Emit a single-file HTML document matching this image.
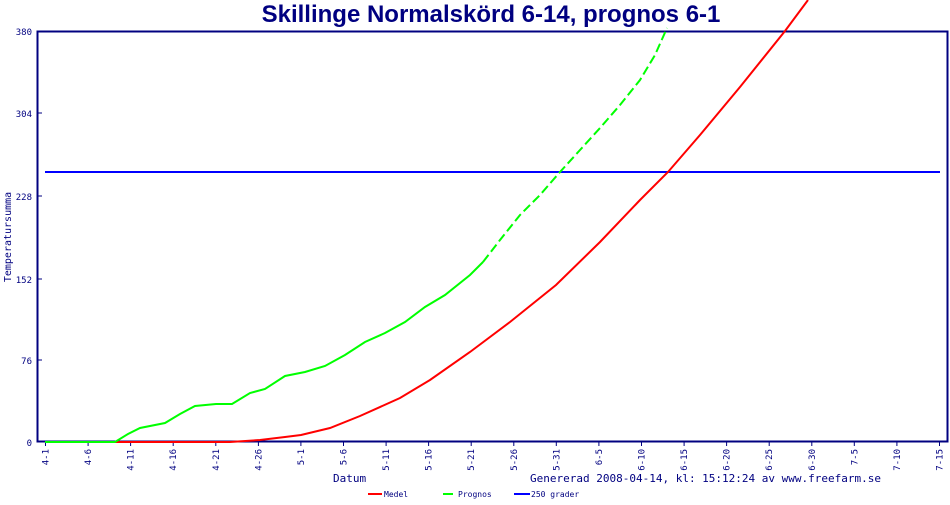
<!DOCTYPE html>
<html><head><meta charset="utf-8"><style>
html,body{margin:0;padding:0;background:#fff;}
svg text{font-family:"DejaVu Sans Mono","Liberation Mono",monospace;fill:#000080;}
</style></head><body>
<svg width="950" height="500" xmlns="http://www.w3.org/2000/svg">
<text x="491" y="22" text-anchor="middle" style="font-family:'Liberation Sans',sans-serif;font-weight:bold;font-size:24px;fill:#000080">Skillinge Normalskörd 6-14, prognos 6-1</text>
<rect x="37.5" y="31.5" width="910" height="410" fill="none" stroke="#000080" stroke-width="2"/>
<g font-size="9">
<text x="32" y="35" text-anchor="end">380</text><line x1="37" y1="113" x2="42" y2="113" stroke="#000080"/>
<text x="32" y="117" text-anchor="end">304</text><line x1="37" y1="196" x2="42" y2="196" stroke="#000080"/>
<text x="32" y="200" text-anchor="end">228</text><line x1="37" y1="279" x2="42" y2="279" stroke="#000080"/>
<text x="32" y="283" text-anchor="end">152</text><line x1="37" y1="360" x2="42" y2="360" stroke="#000080"/>
<text x="32" y="364" text-anchor="end">76</text>
<text x="32" y="446" text-anchor="end">0</text>
</g>
<text transform="translate(11,237) rotate(-90)" text-anchor="middle" font-size="10">Temperatursumma</text>
<g font-size="9" stroke="#000080" stroke-width="1">
<line x1="45.5" y1="441" x2="45.5" y2="446"/><line x1="88.1" y1="441" x2="88.1" y2="446"/><line x1="130.6" y1="441" x2="130.6" y2="446"/><line x1="173.2" y1="441" x2="173.2" y2="446"/><line x1="215.8" y1="441" x2="215.8" y2="446"/><line x1="258.4" y1="441" x2="258.4" y2="446"/><line x1="300.9" y1="441" x2="300.9" y2="446"/><line x1="343.5" y1="441" x2="343.5" y2="446"/><line x1="386.1" y1="441" x2="386.1" y2="446"/><line x1="428.6" y1="441" x2="428.6" y2="446"/><line x1="471.2" y1="441" x2="471.2" y2="446"/><line x1="513.8" y1="441" x2="513.8" y2="446"/><line x1="556.3" y1="441" x2="556.3" y2="446"/><line x1="598.9" y1="441" x2="598.9" y2="446"/><line x1="641.5" y1="441" x2="641.5" y2="446"/><line x1="684.1" y1="441" x2="684.1" y2="446"/><line x1="726.6" y1="441" x2="726.6" y2="446"/><line x1="769.2" y1="441" x2="769.2" y2="446"/><line x1="811.8" y1="441" x2="811.8" y2="446"/><line x1="854.3" y1="441" x2="854.3" y2="446"/><line x1="896.9" y1="441" x2="896.9" y2="446"/><line x1="939.5" y1="441" x2="939.5" y2="446"/>
</g>
<g font-size="9" text-anchor="end">
<text transform="translate(48.5,449) rotate(-90)">4-1</text>
<text transform="translate(91.1,449) rotate(-90)">4-6</text>
<text transform="translate(133.6,449) rotate(-90)">4-11</text>
<text transform="translate(176.2,449) rotate(-90)">4-16</text>
<text transform="translate(218.8,449) rotate(-90)">4-21</text>
<text transform="translate(261.4,449) rotate(-90)">4-26</text>
<text transform="translate(303.9,449) rotate(-90)">5-1</text>
<text transform="translate(346.5,449) rotate(-90)">5-6</text>
<text transform="translate(389.1,449) rotate(-90)">5-11</text>
<text transform="translate(431.6,449) rotate(-90)">5-16</text>
<text transform="translate(474.2,449) rotate(-90)">5-21</text>
<text transform="translate(516.8,449) rotate(-90)">5-26</text>
<text transform="translate(559.3,449) rotate(-90)">5-31</text>
<text transform="translate(601.9,449) rotate(-90)">6-5</text>
<text transform="translate(644.5,449) rotate(-90)">6-10</text>
<text transform="translate(687.1,449) rotate(-90)">6-15</text>
<text transform="translate(729.6,449) rotate(-90)">6-20</text>
<text transform="translate(772.2,449) rotate(-90)">6-25</text>
<text transform="translate(814.8,449) rotate(-90)">6-30</text>
<text transform="translate(857.3,449) rotate(-90)">7-5</text>
<text transform="translate(899.9,449) rotate(-90)">7-10</text>
<text transform="translate(942.5,449) rotate(-90)">7-15</text>
</g>
<line x1="45" y1="172" x2="940" y2="172" stroke="#0000ff" stroke-width="2"/>
<polyline fill="none" stroke="#ff0000" stroke-width="2" points="45,442 230,442 260,440 285,437 301,435 330,428 360,416 400,398 430,380 470,352 510,322 556,285 600,242 640,200 668,172 700,135 740,87 785,31 808,0"/>
<polyline fill="none" stroke="#00ff00" stroke-width="2" points="45,442 115,442 128,434 140,428 165,423 180,414 195,406 216,404 232,404 250,393 265,389 285,376 305,372 325,366 345,355 365,342 385,333 405,322 425,307 445,295 470,275 483,262"/>
<polyline fill="none" stroke="#00ff00" stroke-width="2" stroke-dasharray="9,4" points="483,262 500,240 520,215 540,195 560,172 580,150 600,128 620,105 640,80 655,55 667,28"/>
<text x="333" y="482" font-size="11">Datum</text>
<text x="530" y="482" font-size="11">Genererad 2008-04-14, kl: 15:12:24 av www.freefarm.se</text>
<line x1="368" y1="494" x2="382" y2="494" stroke="#ff0000" stroke-width="2"/><text x="384" y="497" font-size="8">Medel</text>
<line x1="443" y1="494" x2="453" y2="494" stroke="#00ff00" stroke-width="2"/><text x="458" y="497" font-size="8">Prognos</text>
<line x1="514" y1="494" x2="530" y2="494" stroke="#0000ff" stroke-width="2"/><text x="531" y="497" font-size="8">250 grader</text>
</svg>
</body></html>
